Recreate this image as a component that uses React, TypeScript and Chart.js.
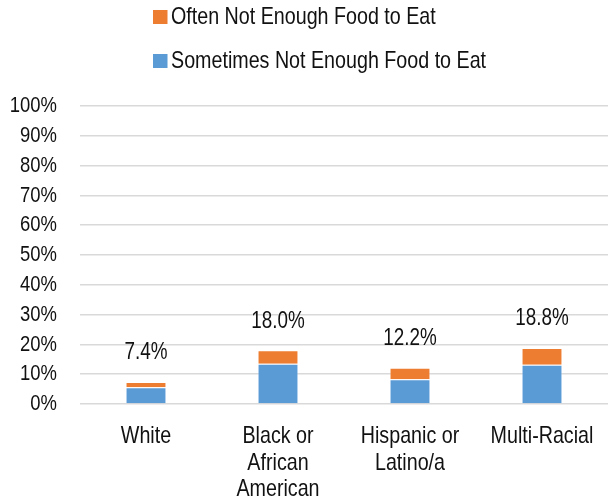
import React, { useEffect, useRef } from "react";
import { Chart, registerables } from "chart.js";

Chart.register(...registerables);

const categories: (string | string[])[] = [
  "White",
  ["Black or", "African", "American"],
  ["Hispanic or", "Latino/a"],
  "Multi-Racial",
];
const sometimesValues = [5.6, 13.5, 8.3, 13.2];
const oftenValues = [1.8, 4.5, 3.9, 5.6];
const totalLabels = ["7.4%", "18.0%", "12.2%", "18.8%"];
const seriesNames = ["Sometimes Not Enough Food to Eat", "Often Not Enough Food to Eat"];
const seriesColors = ["#5B9BD5", "#ED7D31"];

const FONT = "'Liberation Sans', Arial, sans-serif";
const TEXT = "#111111";
const NARROW = 0.82; // horizontal condensing to mimic a narrow sans face

function condenseText(ctx: any) {
  if (ctx.__condensed) return;
  ctx.__condensed = true;
  const origFill = ctx.fillText.bind(ctx);
  const origMeasure = ctx.measureText.bind(ctx);
  ctx.fillText = (t: string, x: number, y: number, mw?: number) => {
    ctx.save();
    ctx.translate(x, y);
    ctx.scale(NARROW, 1);
    if (mw !== undefined) origFill(t, 0, 0, mw / NARROW);
    else origFill(t, 0, 0);
    ctx.restore();
  };
  ctx.measureText = (t: string) => {
    const m = origMeasure(t);
    return {
      width: m.width * NARROW,
      actualBoundingBoxAscent: m.actualBoundingBoxAscent,
      actualBoundingBoxDescent: m.actualBoundingBoxDescent,
      actualBoundingBoxLeft: m.actualBoundingBoxLeft * NARROW,
      actualBoundingBoxRight: m.actualBoundingBoxRight * NARROW,
      fontBoundingBoxAscent: m.fontBoundingBoxAscent,
      fontBoundingBoxDescent: m.fontBoundingBoxDescent,
    };
  };
}

const totalsPlugin = {
  id: "totals",
  afterDatasetsDraw(chart: any) {
    const ctx = chart.ctx;
    const last = chart.getDatasetMeta(chart.data.datasets.length - 1);
    ctx.save();
    ctx.font = `23px ${FONT}`;
    ctx.fillStyle = TEXT;
    ctx.textAlign = "center";
    ctx.textBaseline = "middle";
    last.data.forEach((bar: any, i: number) => {
      ctx.fillText(totalLabels[i], bar.x, bar.y - 29);
    });
    ctx.restore();
  },
};

const legendPlugin = {
  id: "vlegend",
  afterDraw(chart: any) {
    const ctx = chart.ctx;
    const ds = chart.data.datasets.slice().reverse();
    ctx.save();
    ctx.font = `24px ${FONT}`;
    ctx.textBaseline = "middle";
    ctx.textAlign = "left";
    ds.forEach((d: any, i: number) => {
      const cy = 17 + i * 44;
      ctx.fillStyle = d.backgroundColor;
      ctx.fillRect(153, cy - 7, 14.5, 14);
      ctx.fillStyle = TEXT;
      ctx.fillText(d.label, 171, cy);
    });
    ctx.restore();
  },
};

export default function App() {
  const ref = useRef<HTMLCanvasElement>(null);
  useEffect(() => {
    document.body.style.margin = "0";
    const canvas = ref.current!;
    condenseText(canvas.getContext("2d"));
    const chart = new Chart(canvas, {
      type: "bar",
      data: {
        labels: categories,
        datasets: [
          {
            label: seriesNames[0],
            data: sometimesValues,
            backgroundColor: seriesColors[0],
            borderColor: "rgba(255,255,255,0.35)",
            borderWidth: 1,
            barPercentage: 1,
            categoryPercentage: 0.31,
          },
          {
            label: seriesNames[1],
            data: oftenValues,
            backgroundColor: seriesColors[1],
            borderColor: "rgba(255,255,255,0.35)",
            borderWidth: 1,
            barPercentage: 1,
            categoryPercentage: 0.31,
          },
        ],
      },
      options: {
        animation: false,
        responsive: false,
        layout: { padding: { top: 106, left: 10, right: 0, bottom: 0 } },
        plugins: {
          legend: { display: false },
          tooltip: { enabled: false },
        },
        scales: {
          x: {
            stacked: true,
            grid: { display: false },
            border: { display: false },
            ticks: {
              color: TEXT,
              font: { family: FONT, size: 24, lineHeight: 1.11 },
              padding: 11,
              maxRotation: 0,
              autoSkip: false,
            },
            afterFit(scale: any) {
              scale.height = 97;
            },
          },
          y: {
            stacked: true,
            min: 0,
            max: 100,
            grid: { color: "#D9D9D9", lineWidth: 1.5, drawTicks: false },
            border: { display: false },
            ticks: {
              stepSize: 10,
              autoSkip: false,
              color: TEXT,
              font: { family: FONT, size: 22.5 },
              padding: 23,
              callback: (v: any) => `${v}%`,
            },
            afterFit(scale: any) {
              scale.width = 70;
            },
          },
        },
      },
      plugins: [totalsPlugin, legendPlugin],
    });
    return () => chart.destroy();
  }, []);
  return <canvas ref={ref} width={608} height={501} style={{ display: "block" }} />;
}
